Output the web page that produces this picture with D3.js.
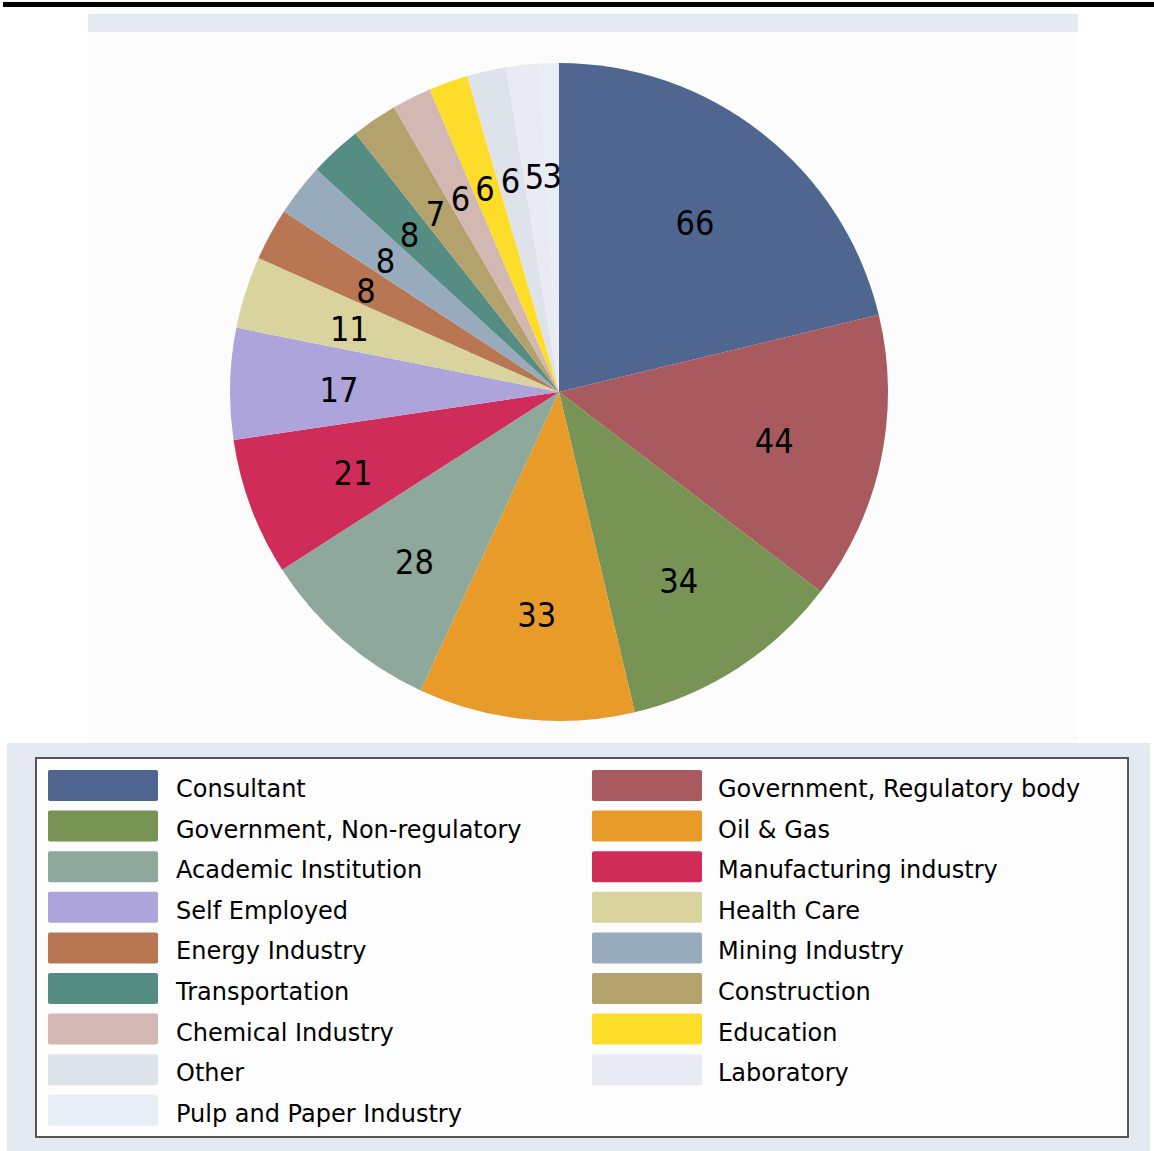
<!DOCTYPE html>
<html lang="en">
<head>
  <meta charset="utf-8">
  <script src="https://d3js.org/d3.v7.min.js"></script>
  <style>
    body { margin: 0; background: #ffffff; }
    svg { display: block; font-family: "DejaVu Sans", Verdana, sans-serif; }
  </style>
</head>
<body>
  <script type="text/javascript">
    // categories and counts, in slice order (clockwise from 12 o'clock)
    var categories = ["Consultant", "Government, Regulatory body",
      "Government, Non-regulatory", "Oil & Gas", "Academic Institution",
      "Manufacturing industry", "Self Employed", "Health Care",
      "Energy Industry", "Mining Industry", "Transportation", "Construction",
      "Chemical Industry", "Education", "Other", "Laboratory",
      "Pulp and Paper Industry"];
    var counts = [66, 44, 34, 33, 28, 21, 17, 11, 8, 8, 8, 7, 6, 6, 6, 5, 3];
    var colours = ["#4f6690", "#a95a5f", "#789454", "#e89b28", "#8fa89c",
      "#d02c59", "#ada4dc", "#d9d49d", "#b87653", "#98abbd", "#558d82",
      "#b3a26b", "#d3b7b2", "#fddc2a", "#dee2eb", "#e8ebf4", "#e9edf5"];

    // dimensions
    var dim = {
      "width": 1154,
      "height": 1151,
      "cx": 559,
      "cy": 392,
      "radius": 329,
      "labelRadius": 220
    };

    var svg = d3.select("body")
      .append("svg")
      .attr("width", dim.width)
      .attr("height", dim.height);

    // frame: top rule, title band, plot region
    svg.append("rect")
      .attr("x", 3).attr("y", 2).attr("width", 1151).attr("height", 5)
      .attr("fill", "#000");
    svg.append("rect")
      .attr("x", 88).attr("y", 32).attr("width", 990).attr("height", 713)
      .attr("fill", "#fcfcfd");
    svg.append("rect")
      .attr("x", 88).attr("y", 14).attr("width", 990).attr("height", 18)
      .attr("fill", "#e5e9f3");

    // pie
    var pie = d3.pie().sort(null).value(function(d) { return d; });
    var arcs = pie(counts);
    var arc = d3.arc().innerRadius(0).outerRadius(dim.radius);
    var labelArc = d3.arc().innerRadius(dim.labelRadius).outerRadius(dim.labelRadius);

    var g = svg.append("g")
      .attr("transform", "translate(" + dim.cx + "," + dim.cy + ")");

    g.selectAll("path")
      .data(arcs)
      .enter()
      .append("path")
      .attr("d", arc)
      .attr("fill", function(d, i) { return colours[i]; });

    // slice values (condensed face, like the original's tall narrow digits)
    g.selectAll("text")
      .data(arcs)
      .enter()
      .append("text")
      .attr("transform", function(d) {
        return "translate(" + labelArc.centroid(d) + ")";
      })
      .attr("text-anchor", "middle")
      .attr("dy", "0.47em")
      .style("font-family", "'DejaVu Sans Condensed', 'DejaVu Sans', sans-serif")
      .style("font-size", "34px")
      .attr("fill", "#000")
      .text(function(d) { return d.data; });

    // legend
    svg.append("rect")
      .attr("x", 7).attr("y", 743).attr("width", 1143).attr("height", 408)
      .attr("fill", "#e5e9f2");
    svg.append("rect")
      .attr("x", 36).attr("y", 758).attr("width", 1092).attr("height", 379)
      .attr("fill", "#fdfdfd")
      .attr("stroke", "#555")
      .attr("stroke-width", 2);

    var legend = svg.selectAll(".legend")
      .data(categories)
      .enter()
      .append("g")
      .attr("class", "legend")
      .attr("transform", function(d, i) {
        var col = i % 2, row = Math.floor(i / 2);
        return "translate(" + (48 + col * 544) + "," + (770 + row * 40.6) + ")";
      });

    legend.append("rect")
      .attr("width", 110)
      .attr("height", 31)
      .attr("rx", 2)
      .attr("fill", function(d, i) { return colours[i]; });

    legend.append("text")
      .attr("x", function(d, i) { return i % 2 ? 126 : 128; })
      .attr("y", 27)
      .style("font-size", "24px")
      .attr("fill", "#000")
      .text(function(d) { return d; });
  </script>
</body>
</html>
